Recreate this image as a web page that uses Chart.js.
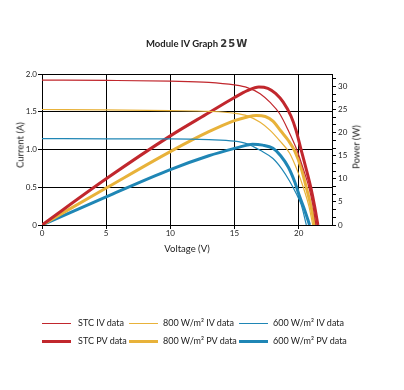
<!DOCTYPE html>
<html>
<head>
<meta charset="utf-8">
<script src="https://cdn.jsdelivr.net/npm/chart.js@4.4.1/dist/chart.umd.min.js"></script>
<style>
  body { margin: 0; background: #fff; }
  #wrap { position: relative; width: 404px; height: 390px; font-family: Lato, 'Open Sans', sans-serif; color: #222; }
  #myChart { position: absolute; left: 0; top: 0; }
  .lbl { position: absolute; font-size: 9.5px; white-space: nowrap; color: #1a1a1a; }
  #title { position: absolute; left: 146px; top: 38px; font-size: 9.5px; font-weight: bold; white-space: nowrap; }
  #title .w { font-family: 'DejaVu Sans', sans-serif; font-size: 10px; letter-spacing: 1px; color: #333; }
  .rot { transform: translate(-50%, -50%) rotate(-90deg); }
  .leg { position: absolute; font-size: 9px; white-space: nowrap; }
  .leg span.ln { position: absolute; left: 0; width: 29px; }
  .leg span.tx { position: absolute; top: -6px; }
</style>
</head>
<body>
<div id="wrap">
  <canvas id="myChart" width="404" height="390"></canvas>
  <div id="title">Module IV Graph <span class="w">25W</span></div>
  <div class="lbl rot" style="left:20px; top:145px;">Current (A)</div>
  <div class="lbl rot" style="left:356px; top:147px;">Power (W)</div>
  <div class="lbl" style="left:187px; top:248px; transform: translate(-50%, -50%);">Voltage (V)</div>
  <div id="legend"></div>
</div>
<script>
// STC (1000 W/m²)
const stcIvV = [0, 5, 10, 13, 15, 16, 17, 17.8, 18.5, 19.2, 19.85, 20.35, 20.8, 21.1, 21.35];
const stcIvI = [1.92, 1.915, 1.905, 1.89, 1.855, 1.82, 1.74, 1.62, 1.48, 1.25, 1.0, 0.75, 0.5, 0.27, 0];
const stcPvV = [0, 5, 10, 13, 15, 16, 16.9, 17.6, 18.2, 18.8, 19.4, 19.8, 20.2, 20.6, 20.95, 21.25, 21.5];
const stcPvP = [0, 10.0, 19.3, 24.3, 27.6, 29.1, 29.9, 29.6, 28.5, 26.6, 23.6, 20.5, 16.2, 12.0, 8.1, 4.0, 0];

// 800 W/m²
const g800IvV = [0, 5, 10, 13, 15, 16, 17, 17.8, 18.5, 19.3, 19.9, 20.4, 20.8, 21.1];
const g800IvI = [1.53, 1.525, 1.515, 1.505, 1.48, 1.445, 1.36, 1.25, 1.12, 0.95, 0.72, 0.48, 0.25, 0];
const g800PvV = [0, 5, 10, 13, 15, 16, 16.7, 17.4, 18.0, 18.6, 19.2, 19.7, 20.2, 20.6, 20.95, 21.25];
const g800PvP = [0, 8.0, 15.9, 20.2, 22.6, 23.4, 23.7, 23.5, 22.5, 20.4, 18.3, 16.0, 12.3, 8.1, 4.2, 0];

// 600 W/m²
const g600IvV = [0, 5, 10, 13, 15, 16, 17, 18.0, 18.7, 19.3, 19.8, 20.2, 20.6];
const g600IvI = [1.145, 1.14, 1.14, 1.13, 1.11, 1.075, 0.99, 0.88, 0.74, 0.58, 0.42, 0.27, 0];
const g600PvV = [0, 5, 10, 13, 15, 16, 16.4, 17.2, 18.0, 18.6, 19.2, 19.7, 20.1, 20.5, 20.85];
const g600PvP = [0, 6.1, 12.0, 15.0, 16.6, 17.3, 17.5, 17.3, 16.6, 15.0, 12.5, 9.3, 6.0, 3.0, 0];

const voltageTicks = [0, 5, 10, 15, 20];
const currentTicks = [0, 0.5, 1.0, 1.5, 2.0];
const powerTicks = [0, 5, 10, 15, 20, 25, 30];

const RED = '#c1272d';
const GOLD = '#e8b23a';
const BLUE = '#1f86b5';

const pts = (xs, ys) => xs.map((x, i) => ({ x: x, y: ys[i] }));

function series(label, xs, ys, color, width, axis) {
  return {
    label: label,
    data: pts(xs, ys),
    borderColor: color,
    backgroundColor: color,
    borderWidth: width,
    yAxisID: axis,
    pointRadius: 0,
    fill: false,
    cubicInterpolationMode: 'monotone',
  };
}

const tickFont = { family: 'Lato', size: 8 };

const ctx = document.getElementById('myChart').getContext('2d');
const chart = new Chart(ctx, {
  type: 'line',
  data: {
    datasets: [
      series('STC IV data', stcIvV, stcIvI, RED, 1.2, 'yI'),
      series('800 W/m² IV data', g800IvV, g800IvI, GOLD, 1.2, 'yI'),
      series('600 W/m² IV data', g600IvV, g600IvI, BLUE, 1.2, 'yI'),
      series('STC PV data', stcPvV, stcPvP, RED, 3, 'yP'),
      series('800 W/m² PV data', g800PvV, g800PvP, GOLD, 3, 'yP'),
      series('600 W/m² PV data', g600PvV, g600PvP, BLUE, 3, 'yP'),
    ],
  },
  options: {
    responsive: false,
    animation: false,
    layout: { padding: { top: 74, bottom: 135, left: 0, right: 0 } },
    plugins: { legend: { display: false }, title: { display: false }, tooltip: { enabled: false } },
    scales: {
      x: {
        type: 'linear',
        min: 0,
        max: 22.6,
        afterBuildTicks: (axis) => { axis.ticks = voltageTicks.map((v) => ({ value: v })); },
        afterFit: (scale) => { scale.height = 30; },
        grid: { color: '#000', lineWidth: 1, tickLength: 4 },
        border: { color: '#000', width: 1 },
        ticks: { font: tickFont, color: '#222', padding: 0, maxRotation: 0 },
      },
      yI: {
        type: 'linear',
        position: 'left',
        min: 0,
        max: 2,
        afterBuildTicks: (axis) => { axis.ticks = currentTicks.map((v) => ({ value: v })); },
        afterFit: (scale) => { scale.width = 42; },
        grid: { color: '#000', lineWidth: 1, tickLength: 4 },
        border: { color: '#000', width: 1 },
        ticks: {
          font: tickFont,
          color: '#222',
          padding: 1,
          callback: (v) => (v === 0 ? '0' : v.toFixed(1)),
        },
      },
      yP: {
        type: 'linear',
        position: 'right',
        min: 0,
        max: 32.7,
        afterBuildTicks: (axis) => {
          // major ticks every 5 W, two minor marks between each
          const t = [];
          for (let i = 0; i <= 19; i++) t.push({ value: (i * 5) / 3 });
          axis.ticks = t;
        },
        afterFit: (scale) => { scale.width = 72; },
        grid: { drawOnChartArea: false, color: '#000', lineWidth: 1, tickLength: 4 },
        border: { color: '#000', width: 1 },
        ticks: {
          font: tickFont,
          color: '#222',
          padding: 2,
          autoSkip: false,
          callback: (v) => {
            const r = Math.round(v);
            return Math.abs(v - r) < 0.01 && powerTicks.includes(r) ? String(r) : '';
          },
        },
      },
    },
  },
});

// legend in three columns, two rows
const legendCols = [42, 129, 239];
const legendRows = [323, 341];
const legend = document.getElementById('legend');
chart.data.datasets.forEach((ds, i) => {
  const item = document.createElement('div');
  item.className = 'leg';
  item.style.left = legendCols[i % 3] + 'px';
  item.style.top = legendRows[Math.floor(i / 3)] + 'px';
  const w = Math.round(ds.borderWidth);
  const ln = document.createElement('span');
  ln.className = 'ln';
  ln.style.borderTop = w + 'px solid ' + ds.borderColor;
  ln.style.top = -Math.floor(w / 2) + 'px';
  const tx = document.createElement('span');
  tx.className = 'tx';
  tx.style.left = (i % 3 === 0 ? 36 : 34) + 'px';
  tx.textContent = ds.label;
  item.appendChild(ln);
  item.appendChild(tx);
  legend.appendChild(item);
});
</script>
</body>
</html>
